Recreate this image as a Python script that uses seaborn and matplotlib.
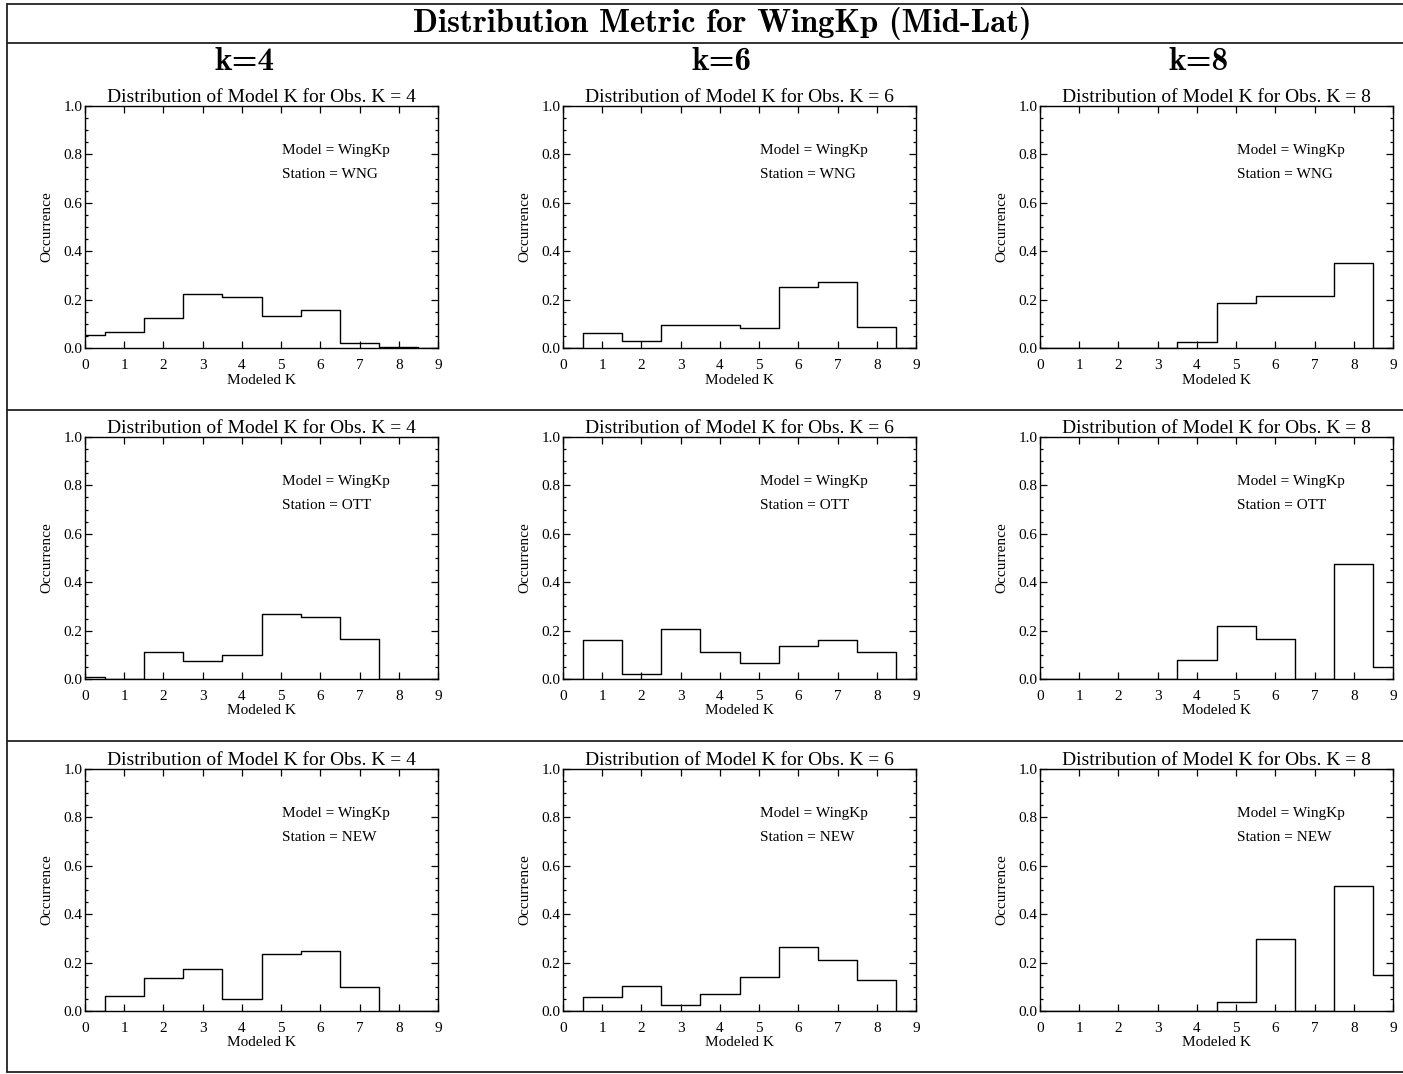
import numpy as np
import pandas as pd
import matplotlib
matplotlib.use("Agg")
import matplotlib.pyplot as plt
import seaborn as sns
from matplotlib.lines import Line2D
from matplotlib.ticker import MultipleLocator

# ---------------- data ----------------
modeled_k = [0, 1, 2, 3, 4, 5, 6, 7, 8, 9]
obs_k = [4, 6, 8]
stations = ["WNG", "OTT", "NEW"]
model_name = "WingKp"
main_title = "Distribution Metric for WingKp (Mid-Lat)"
x_ticks = [0, 1, 2, 3, 4, 5, 6, 7, 8, 9]
y_ticks = [0.0, 0.2, 0.4, 0.6, 0.8, 1.0]

wng_k4 = [0.054, 0.065, 0.122, 0.224, 0.212, 0.132, 0.158, 0.019, 0.003, 0.0]
wng_k6 = [0.0, 0.064, 0.029, 0.097, 0.097, 0.084, 0.252, 0.274, 0.086, 0.0]
wng_k8 = [0.0, 0.0, 0.0, 0.0, 0.024, 0.188, 0.215, 0.215, 0.353, 0.0]

ott_k4 = [0.008, 0.0, 0.112, 0.074, 0.099, 0.269, 0.256, 0.165, 0.0, 0.0]
ott_k6 = [0.0, 0.162, 0.021, 0.208, 0.112, 0.066, 0.137, 0.162, 0.112, 0.0]
ott_k8 = [0.0, 0.0, 0.0, 0.0, 0.080, 0.220, 0.165, 0.0, 0.474, 0.051]

new_k4 = [0.0, 0.063, 0.136, 0.173, 0.050, 0.235, 0.247, 0.100, 0.0, 0.0]
new_k6 = [0.0, 0.059, 0.105, 0.025, 0.071, 0.139, 0.266, 0.210, 0.130, 0.0]
new_k8 = [0.0, 0.0, 0.0, 0.0, 0.0, 0.038, 0.296, 0.0, 0.517, 0.149]

grid = [[wng_k4, wng_k6, wng_k8],
        [ott_k4, ott_k6, ott_k8],
        [new_k4, new_k6, new_k8]]

# ---------------- style ----------------
sns.set_theme(style="ticks")
plt.rcParams["font.family"] = ["Liberation Serif", "DejaVu Serif"]
plt.rcParams["axes.unicode_minus"] = False
plt.rcParams["text.color"] = "black"
plt.rcParams["axes.labelcolor"] = "black"
plt.rcParams["xtick.color"] = "black"
plt.rcParams["ytick.color"] = "black"

W, H = 1403, 1074
fig = plt.figure(figsize=(W / 100, H / 100), dpi=100)
fig.patch.set_facecolor("white")

def fx(px):
    return px / W

def fy(py):
    return 1 - py / H

col_left = [85, 563, 1040]
row_top = [106, 437, 769]
ax_w, ax_h = 353, 242
header_x = [245, 722, 1199]
title_font = ["cmb10", "DejaVu Serif"]

for r in range(3):
    for c in range(3):
        left = col_left[c]
        top = row_top[r]
        ax = fig.add_axes([fx(left), fy(top + ax_h), ax_w / W, ax_h / H])
        df = pd.DataFrame({"K": modeled_k, "occ": grid[r][c]})
        sns.histplot(data=df, x="K", weights="occ", discrete=True, element="step",
                     fill=False, color="black", linewidth=1.0, ax=ax)
        ax.set_xlim(0, 9)
        ax.set_ylim(0, 1.0)
        ax.set_xticks(x_ticks)
        ax.set_yticks(y_ticks)
        ax.set_yticklabels([f"{v:.1f}" for v in y_ticks])
        ax.yaxis.set_minor_locator(MultipleLocator(0.05))
        ax.tick_params(which="both", direction="in", top=True, right=True,
                       colors="black", labelsize=11, width=0.9)
        ax.tick_params(which="major", length=5)
        ax.tick_params(axis="x", which="major", pad=8)
        ax.tick_params(axis="y", which="major", pad=2)
        ax.tick_params(which="minor", length=2.5)
        for sp in ax.spines.values():
            sp.set_linewidth(1.0)
            sp.set_color("black")
        ax.set_xlabel("Modeled K", fontsize=11, labelpad=1)
        ax.set_ylabel("Occurrence", fontsize=11, labelpad=7)
        ax.set_title(f"Distribution of Model K for Obs. K = {obs_k[c]}",
                     fontsize=14, pad=3, color="black")
        ax.text(0.558, 0.818, f"Model = {model_name}", transform=ax.transAxes,
                fontsize=11, va="center", ha="left", color="black")
        ax.text(0.558, 0.719, f"Station = {stations[r]}", transform=ax.transAxes,
                fontsize=11, va="center", ha="left", color="black")

# headers
fig.text(fx(722), fy(24), main_title, ha="center", va="center",
         fontsize=23.5, family=title_font, color="black")
for c in range(3):
    fig.text(fx(header_x[c]), fy(61), f"k={obs_k[c]}", ha="center", va="center",
             fontsize=24, family=title_font, color="black")

# frame lines
lc = "#222222"
for y in [4, 43, 410, 741, 1072]:
    fig.add_artist(Line2D([fx(7), 1.0], [fy(y), fy(y)], color=lc, linewidth=1.3))
fig.add_artist(Line2D([fx(7), fx(7)], [fy(4), fy(1072)], color=lc, linewidth=1.3))

fig.savefig("out.png", dpi=100, facecolor="white")
